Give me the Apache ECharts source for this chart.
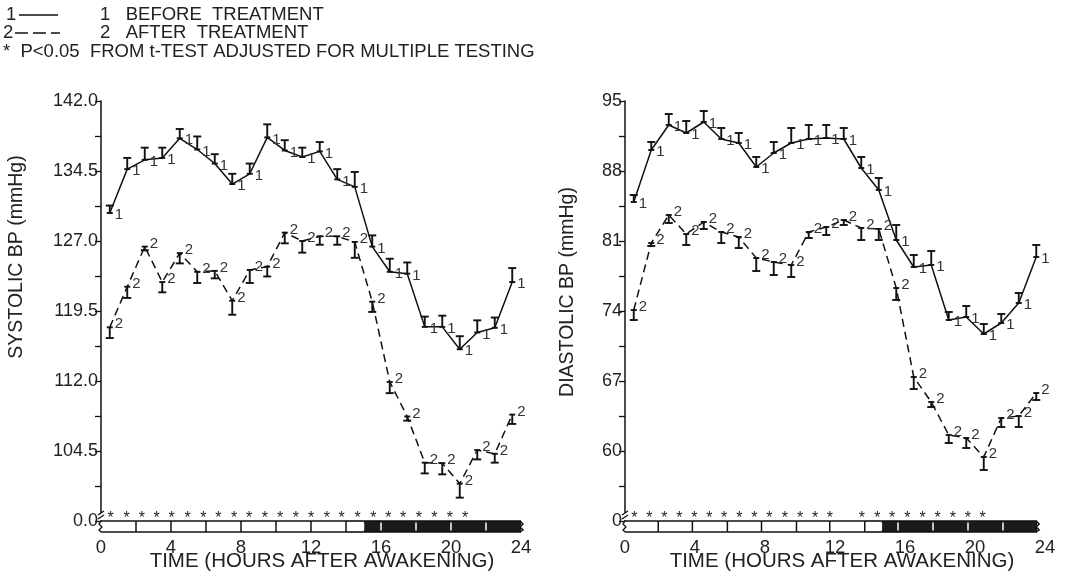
<!DOCTYPE html>
<html><head><meta charset="utf-8">
<script src="https://cdn.jsdelivr.net/npm/echarts@6/dist/echarts.min.js"></script>
<style>html,body{margin:0;padding:0;background:#fff}#c{width:1074px;height:571px}</style>
</head><body><div id="c"></div><script>
// ---------- data ----------
const hours = [0.5,1.5,2.5,3.5,4.5,5.5,6.5,7.5,8.5,9.5,10.5,11.5,12.5,13.5,14.5,15.5,16.5,17.5,18.5,19.5,20.5,21.5,22.5,23.5];
const sysBefore   = [130.0,134.7,135.7,135.9,138.0,136.8,135.3,133.1,134.2,138.1,136.7,136.0,136.6,133.6,132.8,126.4,123.7,123.5,117.8,117.8,115.4,117.2,117.7,122.6];
const sysBeforeHi = [130.8,135.9,137.0,137.0,139.0,138.2,136.3,134.2,135.3,139.5,137.8,137.0,137.6,134.7,134.4,127.6,125.1,124.7,118.9,119.0,116.8,118.5,118.8,124.1];
const sysAfter    = [117.75,122.1,126.4,122.6,125.7,123.7,123.8,120.6,123.9,124.25,127.9,127.0,127.5,127.5,126.9,120.5,111.9,108.2,103.25,103.2,101.0,104.6,104.2,108.4];
const sysAfterLo  = [116.6,120.9,126.0,121.5,124.6,122.5,123.0,119.1,122.5,123.2,126.75,125.75,126.6,126.6,125.2,119.4,110.7,107.75,102.1,102.0,99.5,103.6,103.25,107.4];
const diaBefore   = [84.9,90.1,92.6,91.8,92.9,91.2,90.8,88.4,89.8,90.8,91.2,91.3,91.2,88.3,86.1,81.1,78.4,78.6,73.1,73.4,71.7,72.8,74.8,79.4];
const diaBeforeHi = [85.6,90.9,93.7,93.0,94.0,92.3,91.8,89.4,90.9,92.3,92.6,92.6,92.3,89.4,87.3,82.6,79.6,80.0,73.9,74.5,72.7,73.7,75.8,80.6];
const diaAfter    = [74.1,80.8,83.6,81.7,82.9,81.9,81.4,79.3,78.9,78.6,81.9,82.4,83.1,82.3,82.2,76.3,67.4,64.9,61.6,61.3,59.4,63.3,63.5,65.8];
const diaAfterLo  = [73.1,80.5,82.8,80.6,82.2,80.8,80.3,78.0,77.6,77.4,81.3,81.6,82.6,81.1,81.1,75.1,66.2,64.4,60.8,60.3,58.1,62.4,62.4,65.1];
// significance stars (hours)
const sysStars = [0.55,1.47,2.33,3.18,4.04,4.95,5.85,6.70,7.60,8.47,9.37,10.23,11.14,12.0,12.9,13.75,14.67,15.56,16.42,17.27,18.17,19.05,19.94,20.8];
const diaStars = [0.53,1.39,2.25,3.1,3.96,4.82,5.67,6.53,7.39,8.25,9.14,10.0,10.86,11.71,13.53,14.42,15.27,16.13,17.01,17.87,18.73,19.59,20.44];
// awake / sleep bar (hours)
const sysBarEdges = [0,2,4,6,8,10,12,14,15,16,18,20,22,24];
const sysSleepStart = 15;
const diaBarEdges = [0,1.9,3.85,5.85,7.8,9.8,11.7,13.7,14.65,15.6,17.6,19.6,21.6,23.55];
const diaSleepStart = 14.65;
// axes
const sysMin = 97, sysMax = 142;
const sysLabelValues = [97,104.5,112,119.5,127,134.5,142];
const sysTickValues = [97,100.75,104.5,108.25,112,115.75,119.5,123.25,127,130.75,134.5,138.25,142];
const diaMin = 53, diaMax = 95;
const diaLabelValues = [53,60,67,74,81,88,95];
const diaTickValues = [53,56.5,60,63.5,67,70.5,74,77.5,81,84.5,88,91.5,95];
const xTicks = [0,4,8,12,16,20,24];

// ---------- build ----------
const FONT = '"Liberation Sans", Arial, Helvetica, sans-serif';
const INK = '#111';
const TXT = '#222';

function lineSeries(g, ys, dashed) {
  return {type:'line', xAxisIndex:g, yAxisIndex:g, data: hours.map((h,i)=>[h, ys[i]]),
    symbol:'none', z:3, animation:false,
    lineStyle:{color:INK, width:1.5, type: dashed ? [8,5] : 'solid'}};
}
function errSeries(g, ys, ends, lab, dy) {
  return {type:'custom', xAxisIndex:g, yAxisIndex:g, clip:false, z:5, animation:false,
    data: hours.map((h,i)=>[h, ys[i], ends[i]]),
    renderItem(params, api) {
      const p = api.coord([api.value(0), api.value(1)]);
      const e = api.coord([api.value(0), api.value(2)]);
      const hw = 4, st = {stroke:INK, lineWidth:1.9};
      return {type:'group', children:[
        {type:'line', shape:{x1:p[0],y1:p[1],x2:e[0],y2:e[1]}, style:st},
        {type:'line', shape:{x1:e[0]-hw,y1:e[1],x2:e[0]+hw,y2:e[1]}, style:st},
        {type:'line', shape:{x1:p[0]-3,y1:p[1],x2:p[0]+3,y2:p[1]}, style:st},
        {type:'text', x:p[0]+5, y:p[1]+dy, style:{text:lab, fontSize:15, fill:'#333', fontFamily:FONT, verticalAlign:'middle', align:'left'}}
      ]};
    }};
}
function starSeries(g, xs, ymin) {
  return {type:'custom', xAxisIndex:g, yAxisIndex:g, clip:false, z:5, animation:false,
    data: xs.map(x=>[x, ymin]),
    renderItem(params, api) {
      const p = api.coord([api.value(0), api.value(1)]);
      return {type:'text', x:p[0], y:p[1]-2, style:{text:'*', fontSize:16, fill:TXT, fontFamily:FONT, align:'center', verticalAlign:'middle'}};
    }};
}
function barSeries(g, edges, sleepStart, ymin) {
  const data = edges.slice(0,-1).map((s,i)=>[s, edges[i+1], i]);
  return {type:'custom', xAxisIndex:g, yAxisIndex:g, clip:false, z:6, animation:false, data,
    renderItem(params, api) {
      const s = api.value(0), e = api.value(1), idx = api.value(2);
      const a = api.coord([s, ymin]), b = api.coord([e, ymin]);
      const H = 11, dark = s >= sleepStart - 1e-9;
      const ch = [
        {type:'rect', shape:{x:a[0], y:a[1], width:b[0]-a[0], height:H}, style:{fill: dark ? '#1b1b1b' : '#fff'}},
        {type:'line', shape:{x1:a[0], y1:a[1], x2:b[0], y2:a[1]}, style:{stroke:INK, lineWidth:1.6}},
        {type:'line', shape:{x1:a[0], y1:a[1]+H, x2:b[0], y2:a[1]+H}, style:{stroke:INK, lineWidth:1.6}}
      ];
      if (idx > 0) ch.push({type:'line', shape:{x1:a[0], y1:a[1]+(dark?1.5:0), x2:a[0], y2:a[1]+H-(dark?1.5:0)}, style:{stroke: dark ? '#fff' : INK, lineWidth:1.5}});
      if (idx === edges.length - 2) ch.push({type:'polyline', shape:{points:[[b[0]-1,a[1]],[b[0]+2,a[1]+3],[b[0]-1,a[1]+6],[b[0]+2,a[1]+9],[b[0]-1,a[1]+H]]}, style:{stroke:INK, lineWidth:1.5, fill:null}});
      return {type:'group', children:ch};
    }};
}
function breakSeries(g, ymin) {
  return {type:'custom', xAxisIndex:g, yAxisIndex:g, clip:false, z:7, animation:false, data:[[0, ymin]],
    renderItem(params, api) {
      const p = api.coord([0, ymin]);
      const x = p[0], y = p[1];
      const st = {stroke:INK, lineWidth:1.3};
      return {type:'group', children:[
        {type:'rect', shape:{x:x-2, y:y-8, width:4, height:7}, style:{fill:'#fff'}},
        {type:'line', shape:{x1:x-3, y1:y-6, x2:x+3, y2:y-10}, style:st},
        {type:'line', shape:{x1:x-3, y1:y-2, x2:x+3, y2:y-6}, style:st},
        {type:'polyline', shape:{points:[[x,y],[x-2,y+3],[x+1,y+6],[x-2,y+9],[x,y+11]]}, style:{stroke:INK, lineWidth:1.3, fill:null}}
      ]};
    }};
}
function yAxis(g, min, max, labels, ticks, fmt) {
  return {type:'value', gridIndex:g, min, max, splitLine:{show:false},
    axisLine:{show:true, lineStyle:{color:INK, width:1.5}},
    axisTick:{show:true, customValues:ticks, length:6, lineStyle:{color:INK, width:1.3}},
    axisLabel:{customValues:labels, formatter:fmt, fontSize:18, color:TXT, fontFamily:FONT, margin:3}};
}
function xAxis(g) {
  return {type:'value', gridIndex:g, min:0, max:24, interval:4, splitLine:{show:false},
    axisLine:{show:false}, axisTick:{show:false},
    axisLabel:{fontSize:18.5, color:TXT, fontFamily:FONT, margin:17, customValues:xTicks}};
}

const chart = echarts.init(document.getElementById('c'), null, {renderer:'canvas'});
chart.setOption({
  backgroundColor:'#fff',
  animation:false,
  grid:[{left:101, top:101, width:420, height:420}, {left:625, top:101, width:420, height:420}],
  xAxis:[xAxis(0), xAxis(1)],
  yAxis:[
    yAxis(0, sysMin, sysMax, sysLabelValues, sysTickValues, v => v === sysMin ? '0.0' : v.toFixed(1)),
    yAxis(1, diaMin, diaMax, diaLabelValues, diaTickValues, v => v === diaMin ? '0' : String(v))
  ],
  series:[
    lineSeries(0, sysBefore, false), lineSeries(0, sysAfter, true),
    errSeries(0, sysBefore, sysBeforeHi, '1', 2), errSeries(0, sysAfter, sysAfterLo, '2', -3),
    starSeries(0, sysStars, sysMin), barSeries(0, sysBarEdges, sysSleepStart, sysMin), breakSeries(0, sysMin),
    lineSeries(1, diaBefore, false), lineSeries(1, diaAfter, true),
    errSeries(1, diaBefore, diaBeforeHi, '1', 2), errSeries(1, diaAfter, diaAfterLo, '2', -3),
    starSeries(1, diaStars, diaMin), barSeries(1, diaBarEdges, diaSleepStart, diaMin), breakSeries(1, diaMin)
  ],
  graphic:[
    {type:'text', left:6, top:5, style:{text:'1', fontSize:18.5, fill:TXT, fontFamily:FONT}},
    {type:'line', shape:{x1:19, y1:15, x2:58, y2:15}, style:{stroke:INK, lineWidth:1.5}},
    {type:'text', left:100, top:5, style:{text:'1   BEFORE  TREATMENT', fontSize:18.5, fill:TXT, fontFamily:FONT}},
    {type:'text', left:3, top:23, style:{text:'2', fontSize:18.5, fill:TXT, fontFamily:FONT}},
    {type:'line', shape:{x1:15, y1:33, x2:60, y2:33}, style:{stroke:INK, lineWidth:1.5, lineDash:[13,5]}},
    {type:'text', left:100, top:23, style:{text:'2   AFTER  TREATMENT', fontSize:18.5, fill:TXT, fontFamily:FONT}},
    {type:'text', left:3, top:42, style:{text:'*  P<0.05  FROM t-TEST ADJUSTED FOR MULTIPLE TESTING', fontSize:18.5, fill:TXT, fontFamily:FONT}},
    {type:'text', x:17, y:257, rotation:Math.PI/2, style:{text:'SYSTOLIC BP (mmHg)', fontSize:19.5, fill:TXT, fontFamily:FONT, align:'center', verticalAlign:'middle'}},
    {type:'text', x:568, y:292, rotation:Math.PI/2, style:{text:'DIASTOLIC BP (mmHg)', fontSize:19.5, fill:TXT, fontFamily:FONT, align:'center', verticalAlign:'middle'}},
    {type:'text', x:322, y:561, style:{text:'TIME (HOURS AFTER AWAKENING)', fontSize:20.5, fill:TXT, fontFamily:FONT, align:'center', verticalAlign:'middle'}},
    {type:'text', x:842, y:561, style:{text:'TIME (HOURS AFTER AWAKENING)', fontSize:20.5, fill:TXT, fontFamily:FONT, align:'center', verticalAlign:'middle'}}
  ]
});
</script></body></html>
